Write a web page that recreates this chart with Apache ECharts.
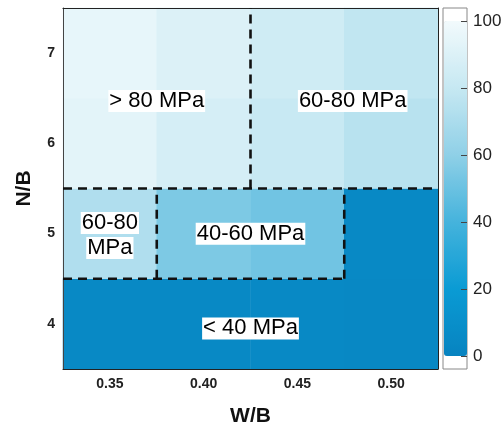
<!DOCTYPE html>
<html><head><meta charset="utf-8">
<script src="https://cdn.jsdelivr.net/npm/echarts@6/dist/echarts.min.js"></script>
<style>html,body{margin:0;padding:0;background:#fff}#c{width:502px;height:425px}</style>
</head><body><div id="c"></div>
<script>
// ---- data ----
const wbCategories = ['0.35', '0.40', '0.45', '0.50'];
const nbCategories = ['4', '5', '6', '7'];
const strengthNB4 = [5, 5, 5, 4];
const strengthNB5 = [72, 55, 52, 5];
const strengthNB6 = [93, 87, 81, 75];
const strengthNB7 = [95, 90, 84, 78];
const strengthRows = [strengthNB4, strengthNB5, strengthNB6, strengthNB7];
const colorbarMin = 0;
const colorbarMax = 100;
const colorbarStep = 20;
// region labels, placed in cell-boundary units (x: 0..4 along W/B, y: 0..4 along N/B)
const regionLabels = ['> 80 MPa', '60-80 MPa', '60-80\nMPa', '40-60 MPa', '< 40 MPa'];
const regionLabelX = [1, 3.09, 0.5, 2, 2];
const regionLabelY = [2.97, 2.97, 1.48, 1.5, 0.45];
// dashed region boundaries [x0, y0, x1, y1] in cell-boundary units
const regionBoundaries = [[0, 2, 4, 2], [0, 1, 3, 1], [2, 2, 2, 4], [1, 1, 1, 2], [3, 1, 3, 2]];

// ---- build ----
const heatData = [];
strengthRows.forEach((row, yi) => row.forEach((v, xi) => heatData.push([xi, yi, v])));
const labelData = regionLabels.map((t, i) => [regionLabelX[i], regionLabelY[i], i]);

const FONT = '"Liberation Sans", Arial, Helvetica, sans-serif';
const AX = '#222';

function toPx(api, bx, by) {
  const o = api.coord([0, 0]);
  const s = api.size([1, 1]);
  return [o[0] - s[0] / 2 + bx * s[0], o[1] + s[1] / 2 - by * s[1]];
}

const chart = echarts.init(document.getElementById('c'), null, {renderer: 'canvas'});
chart.setOption({
  animation: false,
  backgroundColor: '#fff',
  grid: [
    {left: 63, top: 8, width: 375, height: 361, outerBoundsMode: 'none', containLabel: false},
    {left: 443, top: 8, width: 24, height: 361, show: true, borderColor: '#888', borderWidth: 1, backgroundColor: '#fff', outerBoundsMode: 'none'},
    {left: 443, top: 21, width: 24, height: 335, outerBoundsMode: 'none'}
  ],
  xAxis: [
    {gridIndex: 0, type: 'category', data: wbCategories, position: 'bottom', min: 0, max: 3, z: 3,
     axisLine: {lineStyle: {color: AX, width: 1}},
     axisTick: {length: 8, lineStyle: {color: AX}},
     axisLabel: {fontFamily: FONT, fontWeight: 'bold', fontSize: 14, color: '#222', margin: 8},
     splitLine: {show: false},
     name: 'W/B', nameLocation: 'middle', nameGap: 37,
     nameTextStyle: {fontFamily: FONT, fontWeight: 'bold', fontSize: 21, color: '#111'}},
    {gridIndex: 0, type: 'category', data: wbCategories, position: 'top', min: 0, max: 3, z: 3,
     axisLine: {lineStyle: {color: AX, width: 1.2}}, axisTick: {show: false}, axisLabel: {show: false}},
    {gridIndex: 0, type: 'category', data: wbCategories, position: 'bottom', min: 0, max: 3, z: 3,
     axisLine: {show: false}, axisTick: {inside: true, length: 7, lineStyle: {color: AX}}, axisLabel: {show: false}},
    {gridIndex: 1, type: 'category', data: ['c'], show: false},
    {gridIndex: 2, type: 'category', data: ['c'], show: false}
  ],
  yAxis: [
    {gridIndex: 0, type: 'category', data: nbCategories, position: 'left', min: 0, max: 3, z: 3,
     axisLine: {lineStyle: {color: '#444', width: 1}},
     axisTick: {length: 8, lineStyle: {color: AX}},
     axisLabel: {fontFamily: FONT, fontWeight: 'bold', fontSize: 14, color: '#222', margin: 8},
     splitLine: {show: false},
     name: 'N/B', nameLocation: 'middle', nameGap: 28, nameRotate: 90,
     nameTextStyle: {fontFamily: FONT, fontWeight: 'bold', fontSize: 21, color: '#111'}},
    {gridIndex: 0, type: 'category', data: nbCategories, position: 'right', min: 0, max: 3, z: 3,
     axisLine: {lineStyle: {color: AX, width: 1}}, axisTick: {show: false}, axisLabel: {show: false}},
    {gridIndex: 0, type: 'category', data: nbCategories, position: 'left', min: 0, max: 3, z: 3,
     axisLine: {show: false}, axisTick: {inside: true, length: 9, lineStyle: {color: AX}}, axisLabel: {show: false}},
    {gridIndex: 1, type: 'category', data: ['c'], show: false},
    {gridIndex: 2, type: 'value', min: colorbarMin, max: colorbarMax, interval: colorbarStep, position: 'right', z: 10,
     axisLine: {show: false},
     axisTick: {show: true, inside: true, length: 6, lineStyle: {color: '#444'}},
     axisLabel: {fontFamily: FONT, fontSize: 17, color: '#222', margin: 6},
     splitLine: {show: false}}
  ],
  visualMap: {
    type: 'continuous', min: colorbarMin, max: colorbarMax, calculable: false, seriesIndex: 0,
    orient: 'vertical', left: 444, top: 21, itemWidth: 23, itemHeight: 335, padding: 0,
    hoverLink: false,
    inRange: {color: ['#0783c0', '#0a9bd4', '#45b3dc', '#8fd0e7', '#c6e8f2', '#f2fafc']}
  },
  series: [
    {type: 'heatmap', xAxisIndex: 0, yAxisIndex: 0, data: heatData, z: 2,
     itemStyle: {borderWidth: 0}, emphasis: {disabled: true}, progressive: 0},
    {type: 'custom', xAxisIndex: 0, yAxisIndex: 0, data: regionBoundaries, z: 5, silent: true,
     renderItem: function (params, api) {
       const a = toPx(api, api.value(0), api.value(1));
       const b = toPx(api, api.value(2), api.value(3));
       return {type: 'line', shape: {x1: a[0], y1: a[1], x2: b[0], y2: b[1]},
               style: {stroke: '#111', lineWidth: 2.6, lineDash: [9, 6]}};
     }},
    {type: 'custom', xAxisIndex: 0, yAxisIndex: 0, data: labelData, z: 6, silent: true,
     renderItem: function (params, api) {
       const p = toPx(api, api.value(0), api.value(1));
       const txt = regionLabels[params.dataIndex].split('\n').map(s => '{w|' + s + '}').join('\n');
       return {type: 'text', x: p[0], y: p[1],
               style: {text: txt, align: 'center', verticalAlign: 'middle',
                       rich: {w: {fontFamily: FONT, fontSize: 22, color: '#111', backgroundColor: '#fff',
                                  padding: [0, 1], lineHeight: 25}}}};
     }}
  ]
});
</script></body></html>
